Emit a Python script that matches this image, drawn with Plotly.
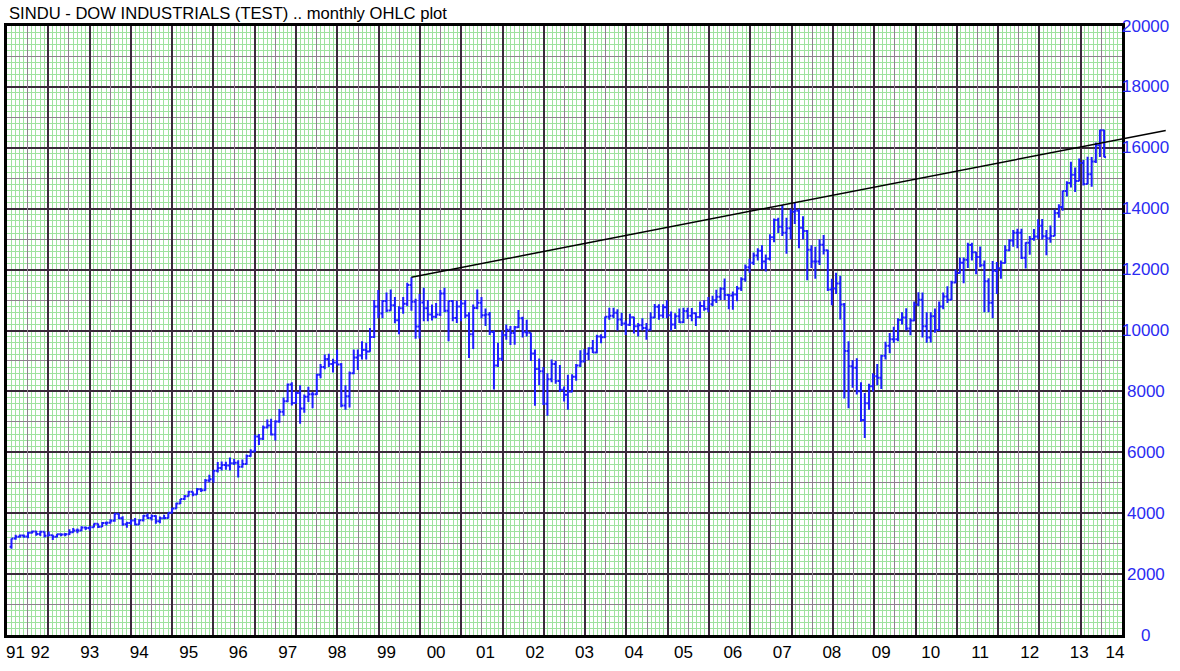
import pandas as pd
import plotly.graph_objects as go

# ---------------- data (monthly OHLC, Dec 1991 .. Jan 2014) ----------------
start_month = "1991-12-01"
n_months = 266

opens = [
    2895,
    3169, 3223, 3268, 3235, 3359, 3397, 3319, 3394, 3257, 3272, 3226, 3305,
    3301, 3310, 3371, 3435, 3428, 3527, 3516, 3539, 3651, 3555, 3681, 3684,
    3754, 3978, 3832, 3636, 3682, 3758, 3625, 3765, 3913, 3843, 3908, 3739,
    3834, 3844, 4011, 4158, 4321, 4465, 4556, 4708, 4611, 4789, 4755, 5074,
    5117, 5395, 5486, 5587, 5569, 5643, 5655, 5529, 5616, 5882, 6029, 6522,
    6448, 6813, 6878, 6583, 7009, 7331, 7673, 8223, 7622, 7945, 7442, 7823,
    7908, 7907, 8546, 8800, 9063, 8900, 8952, 8883, 7539, 7843, 8592, 9117,
    9181, 9359, 9307, 9786, 10789, 10560, 10971, 10655, 10829, 10337, 10730, 10878,
    11497, 10941, 10128, 10922, 10734, 10522, 10448, 10522, 11215, 10651, 10971, 10414,
    10787, 10887, 10495, 9879, 10735, 10912, 10502, 10523, 9950, 8848, 9075, 9852,
    10022, 9920, 10106, 10404, 9946, 9925, 9243, 8737, 8664, 7592, 8397, 8896,
    8342, 8054, 7891, 7992, 8480, 8850, 8985, 9234, 9416, 9275, 9801, 9782,
    10454, 10488, 10584, 10358, 10226, 10188, 10435, 10140, 10174, 10080, 10027, 10428,
    10783, 10490, 10766, 10504, 10193, 10467, 10275, 10641, 10482, 10569, 10440, 10806,
    10718, 10865, 10993, 11109, 11367, 11168, 11150, 11186, 11381, 11679, 12081, 12222,
    12463, 12622, 12269, 12354, 13063, 13628, 13409, 13212, 13358, 13896, 13930, 13372,
    13265, 12650, 12266, 12263, 12820, 12638, 11350, 11378, 11544, 10851, 9325, 8829,
    8776, 8001, 7063, 7609, 8168, 8500, 8447, 9172, 9496, 9712, 9713, 10345,
    10428, 10067, 10325, 10857, 11009, 10137, 9774, 10466, 10015, 10788, 11118, 11006,
    11578, 11892, 12226, 12320, 12811, 12570, 12414, 12143, 11614, 10913, 11955, 12046,
    12218, 12633, 12952, 13212, 13214, 12393, 12880, 13009, 13091, 13437, 13096, 13026,
    13104, 13861, 14054, 14579, 14840, 15116, 14910, 15500, 14810, 15130, 15546, 16086,
    16577,
]
highs = [
    3173,
    3290, 3300, 3300, 3390, 3420, 3420, 3420, 3400, 3400, 3290, 3320, 3340,
    3350, 3470, 3510, 3500, 3570, 3560, 3580, 3660, 3660, 3710, 3730, 3800,
    4000, 3990, 3900, 3720, 3790, 3840, 3800, 3940, 3990, 3960, 3930, 3890,
    3950, 4020, 4180, 4340, 4470, 4600, 4730, 4710, 4830, 4830, 5120, 5260,
    5430, 5680, 5700, 5690, 5830, 5780, 5740, 5760, 5930, 6100, 6580, 6600,
    6880, 7080, 7100, 7050, 7420, 7800, 8260, 8300, 8000, 8200, 7900, 8150,
    7980, 8580, 8900, 9210, 9240, 9070, 9370, 8930, 8200, 8650, 9380, 9380,
    9650, 9600, 10080, 11000, 11330, 11000, 11250, 11350, 11100, 10800, 11100, 11570,
    11750, 11040, 11200, 11400, 11000, 10850, 10900, 11330, 11400, 10980, 11000, 10980,
    11000, 11000, 10600, 10850, 11350, 11100, 10720, 10610, 10000, 9600, 10000, 10200,
    10150, 10150, 10670, 10450, 10350, 9930, 9380, 9080, 8800, 8600, 9050, 9000,
    8870, 8160, 8550, 8560, 8900, 9350, 9390, 9450, 9690, 9860, 9880, 10460,
    10750, 10750, 10700, 10580, 10330, 10550, 10450, 10250, 10400, 10250, 10600, 10870,
    10860, 10860, 10990, 10620, 10570, 10720, 10750, 10750, 10740, 10600, 10950, 10990,
    11100, 11140, 11340, 11420, 11710, 11200, 11280, 11460, 11750, 12170, 12360, 12560,
    12700, 12800, 12500, 13160, 13680, 13700, 14120, 13700, 14000, 14200, 14000, 13750,
    13300, 12800, 12750, 13000, 13140, 12650, 11700, 11900, 11800, 10900, 9650, 9030,
    9090, 8300, 7950, 8250, 8600, 8900, 9200, 9630, 9920, 10120, 10400, 10600,
    10730, 10400, 10950, 11260, 11250, 10600, 10600, 10720, 10950, 11250, 11450, 11630,
    12000, 12400, 12400, 12880, 12880, 12580, 12760, 12300, 11720, 12280, 12250, 12300,
    12800, 13000, 13300, 13340, 13340, 12900, 13100, 13330, 13650, 13660, 13300, 13450,
    13970, 14150, 14590, 14900, 15540, 15350, 15650, 15600, 15710, 15700, 16170, 16590,
    16590,
]
lows = [
    2836,
    3130, 3190, 3190, 3180, 3330, 3260, 3250, 3200, 3240, 3120, 3200, 3240,
    3240, 3280, 3360, 3340, 3410, 3450, 3430, 3530, 3510, 3550, 3600, 3660,
    3720, 3800, 3590, 3520, 3620, 3600, 3620, 3730, 3810, 3760, 3650, 3670,
    3800, 3830, 3990, 4150, 4300, 4430, 4550, 4560, 4610, 4700, 4740, 5020,
    5000, 5340, 5400, 5430, 5400, 5580, 5170, 5490, 5590, 5850, 6000, 6240,
    6400, 6780, 6550, 6390, 6970, 7200, 7640, 7540, 7600, 6940, 7300, 7650,
    7450, 7880, 8430, 8730, 8800, 8620, 8850, 7480, 7400, 7470, 8560, 8700,
    9050, 9050, 9300, 9750, 10400, 10400, 10600, 10650, 10240, 9880, 10550, 10800,
    10650, 9730, 9740, 10300, 10300, 10330, 10400, 10480, 10600, 9650, 10300, 10250,
    10300, 10400, 9100, 9390, 10700, 10400, 10150, 9850, 8060, 8800, 9000, 9700,
    9520, 9530, 10080, 9770, 9800, 9000, 7530, 8200, 7550, 7200, 8300, 8250,
    7980, 7670, 7400, 7970, 8350, 8800, 8950, 9030, 9260, 9250, 9580, 9750,
    10350, 10400, 10000, 10150, 9850, 10150, 9900, 9800, 10000, 9700, 10000, 10400,
    10350, 10400, 10400, 10000, 10050, 10250, 10250, 10380, 10300, 10150, 10400, 10650,
    10600, 10800, 10900, 11000, 11000, 10700, 10680, 10960, 11300, 11600, 11900, 12150,
    12300, 12000, 11940, 12300, 12900, 13200, 13100, 12520, 13000, 13500, 12700, 13000,
    11650, 12050, 11700, 12150, 12500, 11300, 10830, 11200, 10360, 7770, 7450, 8120,
    7900, 7000, 6470, 7400, 8000, 8200, 8080, 9050, 9250, 9600, 9650, 10200,
    10000, 9840, 10300, 10800, 9770, 9600, 9610, 9930, 9980, 10700, 10900, 11000,
    11550, 11870, 11550, 12050, 12300, 11850, 12080, 10600, 10600, 10400, 11200, 11700,
    12200, 12600, 12750, 12700, 12350, 12040, 12490, 12950, 13000, 12990, 12470, 12880,
    13100, 13700, 13930, 14400, 14700, 14550, 14900, 14760, 14800, 14720, 15500, 15700,
    15690,
]
closes = [
    3169,
    3223, 3268, 3235, 3359, 3397, 3319, 3394, 3257, 3272, 3226, 3305, 3301,
    3310, 3371, 3435, 3428, 3527, 3516, 3539, 3651, 3555, 3681, 3684, 3754,
    3978, 3832, 3636, 3682, 3758, 3625, 3765, 3913, 3843, 3908, 3739, 3834,
    3844, 4011, 4158, 4321, 4465, 4556, 4708, 4611, 4789, 4755, 5074, 5117,
    5395, 5486, 5587, 5569, 5643, 5655, 5529, 5616, 5882, 6029, 6522, 6448,
    6813, 6878, 6583, 7009, 7331, 7673, 8223, 7622, 7945, 7442, 7823, 7908,
    7907, 8546, 8800, 9063, 8900, 8952, 8883, 7539, 7843, 8592, 9117, 9181,
    9359, 9307, 9786, 10789, 10560, 10971, 10655, 10829, 10337, 10730, 10878, 11497,
    10941, 10128, 10922, 10734, 10522, 10448, 10522, 11215, 10651, 10971, 10414, 10787,
    10887, 10495, 9879, 10735, 10912, 10502, 10523, 9950, 8848, 9075, 9852, 10022,
    9920, 10106, 10404, 9946, 9925, 9243, 8737, 8664, 7592, 8397, 8896, 8342,
    8054, 7891, 7992, 8480, 8850, 8985, 9234, 9416, 9275, 9801, 9782, 10454,
    10488, 10584, 10358, 10226, 10188, 10435, 10140, 10174, 10080, 10027, 10428, 10783,
    10490, 10766, 10504, 10193, 10467, 10275, 10641, 10482, 10569, 10440, 10806, 10718,
    10865, 10993, 11109, 11367, 11168, 11150, 11186, 11381, 11679, 12081, 12222, 12463,
    12622, 12269, 12354, 13063, 13628, 13409, 13212, 13358, 13896, 13930, 13372, 13265,
    12650, 12266, 12263, 12820, 12638, 11350, 11378, 11544, 10851, 9325, 8829, 8776,
    8001, 7063, 7609, 8168, 8500, 8447, 9172, 9496, 9712, 9713, 10345, 10428,
    10067, 10325, 10857, 11009, 10137, 9774, 10466, 10015, 10788, 11118, 11006, 11578,
    11892, 12226, 12320, 12811, 12570, 12414, 12143, 11614, 10913, 11955, 12046, 12218,
    12633, 12952, 13212, 13214, 12393, 12880, 13009, 13091, 13437, 13096, 13026, 13104,
    13861, 14054, 14579, 14840, 15116, 14910, 15500, 14810, 15130, 15546, 16086, 16577,
    15699,
]

year_labels = ["91", "92", "93", "94", "95", "96", "97", "98", "99", "00", "01", "02",
               "03", "04", "05", "06", "07", "08", "09", "10", "11", "12", "13", "14"]
year_label_dates = ["1991-12-31"] + [f"{y}-07-01" for y in range(1992, 2014)] + ["2014-03-22"]

y_ticks = [0, 2000, 4000, 6000, 8000, 10000, 12000, 14000, 16000, 18000, 20000]

title_text = "SINDU - DOW INDUSTRIALS (TEST) .. monthly OHLC plot"

# trendline: from the 2000 high through the 2007 high, extended
trend_end_date = "2015-04-01"

# ---------------- styles ----------------
X_RANGE = ["1991-10-29", "2014-05-13"]
Y_RANGE = [0, 20000]
BAR_BLUE = "#1c1cff"
LABEL_BLUE = "#2b2bf2"
DARK = "#3a2a3a"
MEDIUM = "#8f7f8f"
GREEN = "#9ee29e"
FONT = "Liberation Sans"

dates = pd.date_range(start_month, periods=n_months, freq="MS")

fig = go.Figure()
fig.add_trace(go.Ohlc(
    x=dates, open=opens, high=highs, low=lows, close=closes,
    increasing=dict(line=dict(color=BAR_BLUE, width=2)),
    decreasing=dict(line=dict(color=BAR_BLUE, width=2)),
    tickwidth=0.5, hoverinfo="skip", showlegend=False,
))

# trendline computed from data
i_a = max(range(len(dates)), key=lambda i: highs[i] if dates[i].year == 2000 else -1)
i_b = max(range(len(dates)), key=lambda i: highs[i] if dates[i].year == 2007 else -1)
t0 = pd.Timestamp(X_RANGE[0]); t1 = pd.Timestamp(X_RANGE[1])
ta, tb, te = dates[i_a], dates[i_b], pd.Timestamp(trend_end_date)
slope = (highs[i_b] - highs[i_a]) / (tb - ta).total_seconds()
y_end = highs[i_a] + slope * (te - ta).total_seconds()
def to_paper(t):
    return (t - t0).total_seconds() / (t1 - t0).total_seconds()

fig.add_shape(type="line", xref="paper", yref="y",
              x0=to_paper(ta), y0=highs[i_a], x1=to_paper(te), y1=y_end,
              line=dict(color="black", width=1.5), layer="above")

# grid-paper axes
N_COLS = 27
fig.update_layout(
    width=1180, height=671,
    margin=dict(l=4, r=58, t=26, b=36),
    paper_bgcolor="white", plot_bgcolor="white",
    showlegend=False,
    font=dict(family=FONT, size=17, color="black"),
    xaxis=dict(
        type="date", range=X_RANGE, rangeslider=dict(visible=False),
        showgrid=False, zeroline=False,
        tickmode="array", tickvals=year_label_dates, ticktext=year_labels,
        ticks="", tickfont=dict(size=17, color="black"),
        showline=True, mirror=True, linecolor="black", linewidth=3,
    ),
    yaxis=dict(
        range=Y_RANGE, side="right", showticklabels=False, ticks="",
        showgrid=True, tick0=0, dtick=2000, gridcolor=DARK, gridwidth=1.5,
        minor=dict(dtick=200, showgrid=True, gridcolor=GREEN, gridwidth=1),
        zeroline=False,
        showline=True, mirror=True, linecolor="black", linewidth=3,
    ),
    yaxis2=dict(
        range=Y_RANGE, overlaying="y", anchor="x", side="right",
        showticklabels=False, ticks="", zeroline=False, showline=False,
        showgrid=True, tick0=1000, dtick=2000, gridcolor=MEDIUM, gridwidth=1,
    ),
    xaxis2=dict(
        range=[0, N_COLS], overlaying="x", anchor="y",
        showticklabels=False, ticks="", zeroline=False, showline=False,
        showgrid=True, tick0=0, dtick=1, gridcolor=DARK, gridwidth=1.5,
        minor=dict(dtick=0.1, showgrid=True, gridcolor=GREEN, gridwidth=1),
    ),
    xaxis3=dict(
        range=[0, N_COLS], overlaying="x", anchor="y",
        showticklabels=False, ticks="", zeroline=False, showline=False,
        showgrid=True, tick0=0.5, dtick=1, gridcolor=MEDIUM, gridwidth=1,
    ),
)

# empty traces so the overlay subplots exist
fig.add_trace(go.Scatter(x=[], y=[], xaxis="x2", yaxis="y", showlegend=False))
fig.add_trace(go.Scatter(x=[], y=[], xaxis="x3", yaxis="y", showlegend=False))
fig.add_trace(go.Scatter(x=[], y=[], xaxis="x", yaxis="y2", showlegend=False))

# right-side value labels, centred
for v in y_ticks:
    fig.add_annotation(x=1.0215, xref="paper", y=v, yref="y", text=str(v),
                       showarrow=False, xanchor="center", yanchor="middle",
                       font=dict(family=FONT, size=17, color=LABEL_BLUE))

fig.add_annotation(x=0.0, xref="paper", y=1.0, yref="paper", yshift=13,
                   text=title_text, showarrow=False, xanchor="left", yanchor="middle",
                   font=dict(family=FONT, size=16.6, color="black"))

fig.write_html("out.html",
               config={"displayModeBar": False},
               post_script="document.body.style.margin='0';document.body.style.overflow='hidden';")
